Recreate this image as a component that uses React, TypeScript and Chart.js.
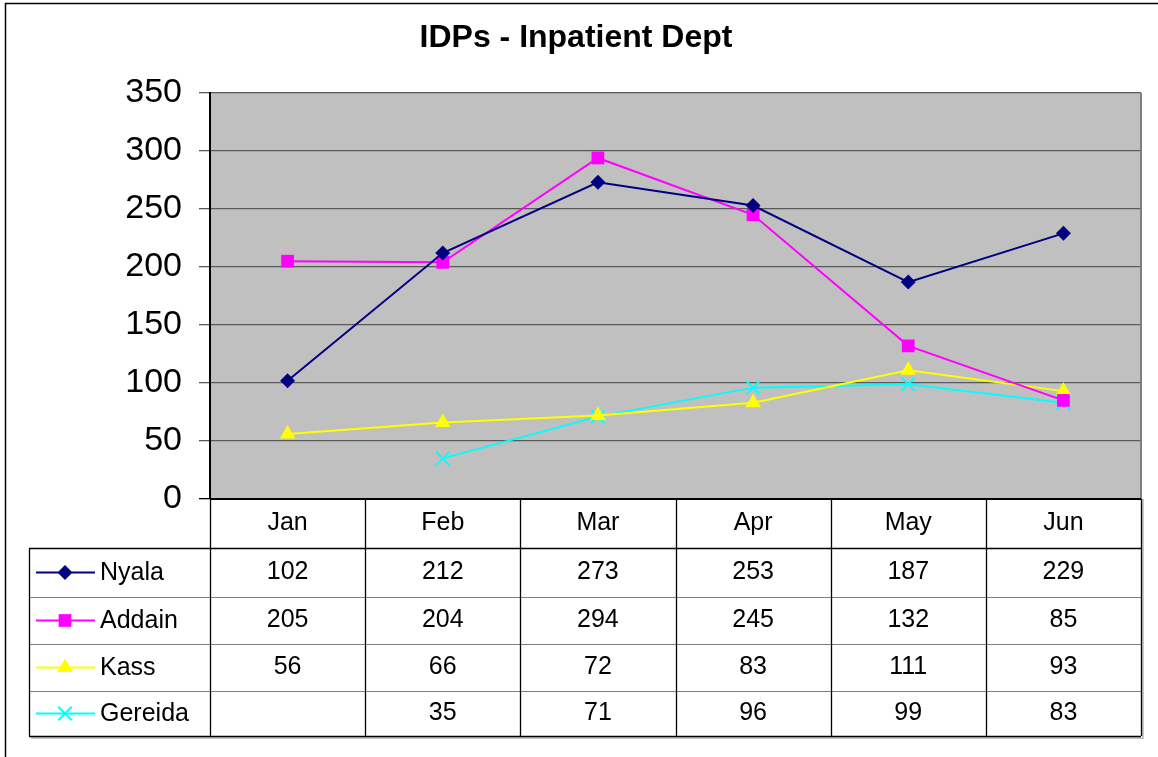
import React, { useEffect, useRef } from "react";
import { Chart, registerables } from "chart.js";

Chart.register(...registerables);

const months = ["Jan", "Feb", "Mar", "Apr", "May", "Jun"];
const nyala = [102, 212, 273, 253, 187, 229];
const addain = [205, 204, 294, 245, 132, 85];
const kass = [56, 66, 72, 83, 111, 93];
const gereida: (number | null)[] = [null, 35, 71, 96, 99, 83];
const seriesNames = ["Nyala", "Addain", "Kass", "Gereida"];
const seriesColors = ["#000080", "#FF00FF", "#FFFF00", "#00FFFF"];
const seriesStyles = ["rectRot", "rect", "triangle", "crossRot"];
const seriesRadius = [7.5, 9, 9, 9.5];
const yTicks = [0, 50, 100, 150, 200, 250, 300, 350];

const FONT = "Arial, 'Liberation Sans', sans-serif";

function drawMarker(ctx: CanvasRenderingContext2D, style: string, x: number, y: number, r: number, color: string) {
  ctx.save();
  ctx.fillStyle = color;
  ctx.strokeStyle = color;
  ctx.lineWidth = 2;
  ctx.beginPath();
  if (style === "rectRot") {
    ctx.moveTo(x - r, y);
    ctx.lineTo(x, y - r);
    ctx.lineTo(x + r, y);
    ctx.lineTo(x, y + r);
    ctx.closePath();
    ctx.fill();
  } else if (style === "rect") {
    const s = Math.SQRT1_2 * r;
    ctx.rect(x - s, y - s, 2 * s, 2 * s);
    ctx.fill();
  } else if (style === "triangle") {
    let a = 0;
    ctx.moveTo(x + Math.sin(a) * r, y - Math.cos(a) * r);
    a += (2 * Math.PI) / 3;
    ctx.lineTo(x + Math.sin(a) * r, y - Math.cos(a) * r);
    a += (2 * Math.PI) / 3;
    ctx.lineTo(x + Math.sin(a) * r, y - Math.cos(a) * r);
    ctx.closePath();
    ctx.fill();
  } else {
    const o = Math.SQRT1_2 * r;
    ctx.moveTo(x - o, y - o);
    ctx.lineTo(x + o, y + o);
    ctx.moveTo(x - o, y + o);
    ctx.lineTo(x + o, y - o);
    ctx.stroke();
  }
  ctx.restore();
}

const framePlugin = {
  id: "framePlugin",
  beforeDraw(chart: any) {
    const { ctx, chartArea: a } = chart;
    ctx.save();
    ctx.fillStyle = "#FFFFFF";
    ctx.fillRect(0, 0, chart.width, chart.height);
    ctx.strokeStyle = "#000000";
    ctx.lineWidth = 1.5;
    ctx.strokeRect(5.5, 3.5, chart.width + 20, chart.height + 20);
    ctx.fillStyle = "#C0C0C0";
    ctx.fillRect(a.left, a.top, a.right - a.left, a.bottom - a.top);
    ctx.fillStyle = "#000";
    ctx.font = `bold 32px ${FONT}`;
    ctx.textAlign = "center";
    ctx.textBaseline = "middle";
    ctx.fillText("IDPs - Inpatient Dept", 576, 38);
    ctx.restore();
  },
  afterDatasetsDraw(chart: any) {
    const { ctx, chartArea: a } = chart;
    const datasets = [nyala, addain, kass, gereida];
    ctx.save();
    ctx.strokeStyle = "#808080";
    ctx.lineWidth = 2;
    ctx.beginPath();
    ctx.moveTo(a.right, a.top);
    ctx.lineTo(a.right, a.bottom);
    ctx.stroke();

    const colW = (a.right - a.left) / months.length;
    const headerTop = a.bottom;
    const headerBottom = headerTop + 49;
    const rowH = [49, 47, 47, 45];
    const rowTops: number[] = [];
    let yy = headerBottom;
    for (let i = 0; i < rowH.length; i++) {
      rowTops.push(yy);
      yy += rowH[i];
    }
    const tableBottom = yy;
    const tableLeft = 29;

    ctx.strokeStyle = "#C8C8C8";
    ctx.lineWidth = 2;
    ctx.beginPath();
    ctx.moveTo(tableLeft + 2, tableBottom + 2);
    ctx.lineTo(a.right + 2, tableBottom + 2);
    ctx.lineTo(a.right + 2, headerTop);
    ctx.stroke();

    ctx.strokeStyle = "#808080";
    ctx.lineWidth = 1;
    for (let i = 1; i < rowTops.length; i++) {
      ctx.beginPath();
      ctx.moveTo(tableLeft, Math.round(rowTops[i]) + 0.5);
      ctx.lineTo(a.right, Math.round(rowTops[i]) + 0.5);
      ctx.stroke();
    }
    ctx.strokeStyle = "#000";
    ctx.lineWidth = 1.3;
    ctx.beginPath();
    ctx.moveTo(tableLeft, headerBottom + 0.5);
    ctx.lineTo(a.right, headerBottom + 0.5);
    ctx.moveTo(tableLeft, tableBottom + 0.5);
    ctx.lineTo(a.right, tableBottom + 0.5);
    ctx.moveTo(tableLeft + 0.5, headerBottom);
    ctx.lineTo(tableLeft + 0.5, tableBottom);
    for (let c = 0; c <= months.length; c++) {
      const x = Math.round(a.left + c * colW) + 0.5;
      ctx.moveTo(x, headerTop);
      ctx.lineTo(x, tableBottom);
    }
    ctx.stroke();
    ctx.lineWidth = 2;
    ctx.beginPath();
    ctx.moveTo(a.left, a.bottom);
    ctx.lineTo(a.right, a.bottom);
    ctx.stroke();

    ctx.fillStyle = "#000";
    ctx.font = `25px ${FONT}`;
    ctx.textAlign = "center";
    ctx.textBaseline = "middle";
    const xs = chart.scales.x;
    months.forEach((m, i) => {
      ctx.fillText(m, xs.getPixelForValue(i), (headerTop + headerBottom) / 2);
    });
    datasets.forEach((vals, r) => {
      const cy = rowTops[r] + rowH[r] / 2;
      vals.forEach((v, i) => {
        if (v !== null && v !== undefined) {
          ctx.fillText(String(v), xs.getPixelForValue(i), cy);
        }
      });
      ctx.strokeStyle = seriesColors[r];
      ctx.lineWidth = 2;
      ctx.beginPath();
      ctx.moveTo(36, cy);
      ctx.lineTo(95, cy);
      ctx.stroke();
      drawMarker(ctx, seriesStyles[r], 65, cy, seriesRadius[r], seriesColors[r]);
      ctx.textAlign = "left";
      ctx.fillStyle = "#000";
      ctx.fillText(seriesNames[r], 100, cy + 1);
      ctx.textAlign = "center";
    });
    ctx.restore();
  },
};

export default function App() {
  const ref = useRef<HTMLCanvasElement | null>(null);
  useEffect(() => {
    if (!ref.current) return;
    const all = [nyala, addain, kass, gereida];
    const chart = new Chart(ref.current, {
      type: "line",
      data: {
        labels: months,
        datasets: all.map((d, i) => ({
          label: seriesNames[i],
          data: d,
          borderColor: seriesColors[i],
          backgroundColor: seriesColors[i],
          pointBackgroundColor: seriesColors[i],
          pointBorderColor: seriesColors[i],
          pointStyle: seriesStyles[i] as any,
          pointRadius: seriesRadius[i],
          pointBorderWidth: seriesStyles[i] === "crossRot" ? 2 : 0,
          borderWidth: 2,
          tension: 0,
          spanGaps: false,
        })),
      },
      options: {
        responsive: false,
        animation: false,
        events: [],
        layout: { padding: { left: 0, top: 93, right: 17, bottom: 258 } },
        plugins: {
          legend: { display: false },
          title: { display: false },
          tooltip: { enabled: false },
        },
        scales: {
          x: {
            type: "category",
            offset: true,
            display: false,
          },
          y: {
            min: 0,
            max: 350,
            afterFit: (s: any) => {
              s.width = 210;
            },
            afterBuildTicks: (s: any) => {
              s.ticks = yTicks.map((v) => ({ value: v }));
            },
            border: { display: true, color: "#000", width: 2 },
            grid: {
              color: (c: any) => (c.tick && c.tick.value === 0 ? "#000" : "#5A5A5A"),
              lineWidth: 1.3,
              tickLength: 11,
              drawTicks: true,
            },
            ticks: {
              padding: 17,
              color: "#000",
              font: { family: FONT, size: 34 },
            },
          },
        },
      },
      plugins: [framePlugin],
    });
    return () => chart.destroy();
  }, []);
  return (
    <div style={{ position: "absolute", left: 0, top: 0, width: 1158, height: 757 }}>
      <canvas ref={ref} width={1158} height={757} style={{ display: "block" }} />
    </div>
  );
}
